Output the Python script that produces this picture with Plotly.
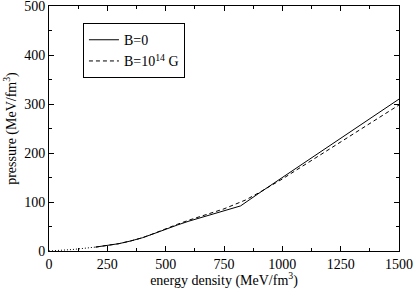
import plotly.graph_objects as go

# Shared low-density (crust) part, dotted
crust_x = [0, 50, 100, 150, 200]
crust_y = [0, 0.8, 3, 5.5, 8]

# B = 0
b0_x = [200, 250, 300, 350, 400, 450, 500, 550, 600, 650, 700, 750, 821,
        900, 1000, 1100, 1200, 1300, 1400, 1500]
b0_y = [8, 11, 15, 20.5, 27, 35.5, 45, 53, 61, 68, 75, 82, 92,
        118, 150, 182, 214, 246, 278, 310]

# B = 10^14 G
b14_x = [200, 250, 300, 350, 400, 450, 500, 550, 600, 650, 700, 750, 842,
         900, 1000, 1100, 1200, 1300, 1400, 1500]
b14_y = [8, 11, 15, 20.5, 27, 35.8, 45.5, 54.5, 63, 71, 78, 86, 104,
         119, 147, 177.5, 208, 238, 268, 298]

x_ticks = [0, 250, 500, 750, 1000, 1250, 1500]
y_ticks = [0, 100, 200, 300, 400, 500]

FONT = "Liberation Serif, Times New Roman, serif"

fig = go.Figure()
fig.add_trace(go.Scatter(x=crust_x, y=crust_y, mode="lines",
                         line=dict(color="black", width=1, dash="1px,2px"),
                         showlegend=False, hoverinfo="skip"))
fig.add_trace(go.Scatter(x=b0_x, y=b0_y, mode="lines", name="B=0",
                         line=dict(color="black", width=1)))
fig.add_trace(go.Scatter(x=b14_x, y=b14_y, mode="lines",
                         name="B=10<sup>14</sup> G",
                         line=dict(color="black", width=1, dash="4px,3px")))

axis_common = dict(
    showline=True, linecolor="black", linewidth=1, mirror="ticks",
    ticks="inside", ticklen=5, tickwidth=1, tickcolor="black",
    showgrid=False, zeroline=False, automargin=False,
    ticklabeloverflow="allow",
    tickfont=dict(family=FONT, size=14, color="black"),
)

fig.update_xaxes(range=[0, 1500], tickvals=x_ticks,
                 minor=dict(ticks="inside", ticklen=3, dtick=125, tick0=0,
                            tickcolor="black", showgrid=False),
                 title=dict(text="energy density (MeV/fm<sup>3</sup>)",
                            font=dict(family=FONT, size=14, color="black"),
                            standoff=1),
                 **axis_common)
fig.update_yaxes(range=[0, 500], tickvals=y_ticks,
                 minor=dict(ticks="inside", ticklen=3, dtick=50, tick0=0,
                            tickcolor="black", showgrid=False),
                 title=dict(text="pressure (MeV/fm<sup>3</sup>)",
                            font=dict(family=FONT, size=14, color="black"),
                            standoff=4),
                 **axis_common)

fig.update_layout(
    width=415, height=289,
    margin=dict(l=49, r=16, t=6, b=38),
    paper_bgcolor="white", plot_bgcolor="white",
    font=dict(family=FONT, size=14, color="black"),
    legend=dict(x=0.097, y=0.93, xanchor="left", yanchor="top",
                bgcolor="white", bordercolor="black", borderwidth=1,
                font=dict(family=FONT, size=14, color="black"),
                itemwidth=30, tracegroupgap=0),
)

fig.write_html("out.html",
               config={"displayModeBar": False},
               post_script="document.body.style.margin='0px';"
                           "document.body.style.overflow='hidden';")
